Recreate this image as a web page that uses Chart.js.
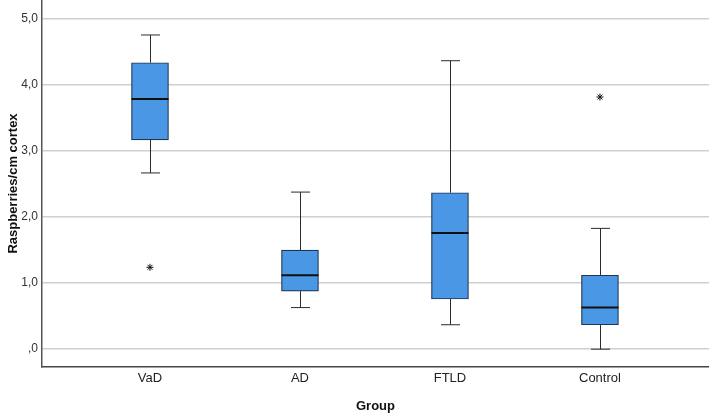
<!DOCTYPE html>
<html>
<head>
<meta charset="utf-8">
<script src="https://cdn.jsdelivr.net/npm/chart.js@4/dist/chart.umd.min.js"></script>
<style>
  html, body { margin: 0; padding: 0; background: #fff; }
  #wrap { width: 709px; height: 413px; }
</style>
</head>
<body>
<div id="wrap"><canvas id="boxChart"></canvas></div>
<script>
// groups and box statistics
const groups = ['VaD', 'AD', 'FTLD', 'Control'];
const whiskerLow = [2.67, 0.63, 0.37, 0.00];
const quartile1 = [3.17, 0.88, 0.76, 0.37];
const medians = [3.79, 1.12, 1.76, 0.63];
const quartile3 = [4.34, 1.50, 2.37, 1.12];
const whiskerHigh = [4.76, 2.38, 4.37, 1.83];
// extreme values (group index, value)
const extremeGroup = [1, 4];
const extremeValue = [1.24, 3.82];
const yTicks = [0, 1, 2, 3, 4, 5];
const yTickLabels = [',0', '1,0', '2,0', '3,0', '4,0', '5,0'];

const boxData = groups.map((g, i) => ({ x: i + 1, y: [quartile1[i], quartile3[i]] }));
const extremeData = extremeGroup.map((g, i) => ({ x: g, y: extremeValue[i] }));

const whiskerPlugin = {
    id: 'whiskers',
    beforeDatasetsDraw(chart) {
        const ctx = chart.ctx;
        const xs = chart.scales.x;
        const ys = chart.scales.y;
        ctx.save();
        ctx.strokeStyle = '#2b2b2b';
        ctx.lineWidth = 1;
        groups.forEach((g, i) => {
            const x = Math.round(xs.getPixelForValue(i + 1)) + 0.5;
            const lo = ys.getPixelForValue(whiskerLow[i]);
            const hi = ys.getPixelForValue(whiskerHigh[i]);
            const q1 = ys.getPixelForValue(quartile1[i]);
            const q3 = ys.getPixelForValue(quartile3[i]);
            ctx.beginPath();
            ctx.moveTo(x, hi); ctx.lineTo(x, q3);
            ctx.moveTo(x, q1); ctx.lineTo(x, lo);
            ctx.moveTo(x - 9.5, hi); ctx.lineTo(x + 9.5, hi);
            ctx.moveTo(x - 9.5, lo); ctx.lineTo(x + 9.5, lo);
            ctx.stroke();
        });
        ctx.restore();
    },
    afterDatasetsDraw(chart) {
        const ctx = chart.ctx;
        const xs = chart.scales.x;
        const ys = chart.scales.y;
        ctx.save();
        ctx.strokeStyle = '#111';
        ctx.lineWidth = 2;
        groups.forEach((g, i) => {
            const x = xs.getPixelForValue(i + 1);
            const m = ys.getPixelForValue(medians[i]);
            ctx.beginPath();
            ctx.moveTo(x - 18.5, m); ctx.lineTo(x + 18.5, m);
            ctx.stroke();
        });
        ctx.restore();
    }
};

const ctx = document.getElementById('boxChart').getContext('2d');
new Chart(ctx, {
    type: 'bar',
    data: {
        datasets: [
            {
                type: 'scatter',
                label: 'Extreme',
                data: extremeData,
                pointStyle: 'star',
                radius: 3.5,
                borderColor: '#111',
                borderWidth: 1,
                backgroundColor: '#111'
            },
            {
                label: 'Box',
                data: boxData,
                backgroundColor: '#4a97e6',
                borderColor: '#1f3550',
                borderWidth: 1.2,
                borderSkipped: false,
                barThickness: 37
            }
        ]
    },
    options: {
        responsive: true,
        maintainAspectRatio: false,
        animation: false,
        layout: { padding: 0, autoPadding: false },
        plugins: {
            legend: { display: false },
            tooltip: { enabled: false }
        },
        scales: {
            x: {
                type: 'linear',
                offset: false,
                min: 0.28,
                max: 4.727,
                afterBuildTicks: s => { s.ticks = groups.map((g, i) => ({ value: i + 1 })); },
                afterFit: s => { s.height = 46; s.paddingLeft = 0; s.paddingRight = 0; },
                ticks: {
                    padding: 4,
                    color: '#222',
                    font: { family: 'Liberation Sans, Arial', size: 13 },
                    callback: (v) => groups[v - 1]
                },
                grid: { display: false, drawTicks: false },
                border: { display: true, color: '#444', width: 1.5 },
                title: {
                    display: true,
                    text: 'Group',
                    color: '#111',
                    padding: 0,
                    font: { family: 'Liberation Sans, Arial', size: 13, weight: 'bold', lineHeight: 1 }
                }
            },
            y: {
                min: -0.27,
                max: 5.29,
                afterBuildTicks: s => { s.ticks = yTicks.map(v => ({ value: v })); },
                afterFit: s => { s.width = 42; s.paddingTop = 0; s.paddingBottom = 0; },
                ticks: {
                    padding: 4,
                    color: '#333',
                    font: { family: 'Liberation Sans, Arial', size: 12 },
                    callback: (v) => yTickLabels[yTicks.indexOf(v)]
                },
                grid: { color: '#cfcfcf', lineWidth: 1.5, drawTicks: false },
                border: { display: true, color: '#555', width: 1.5 },
                title: {
                    display: true,
                    text: 'Raspberries/cm cortex',
                    color: '#111',
                    padding: { top: 6, bottom: 0 },
                    font: { family: 'Liberation Sans, Arial', size: 13, weight: 'bold' }
                }
            }
        }
    },
    plugins: [whiskerPlugin]
});
</script>
</body>
</html>
